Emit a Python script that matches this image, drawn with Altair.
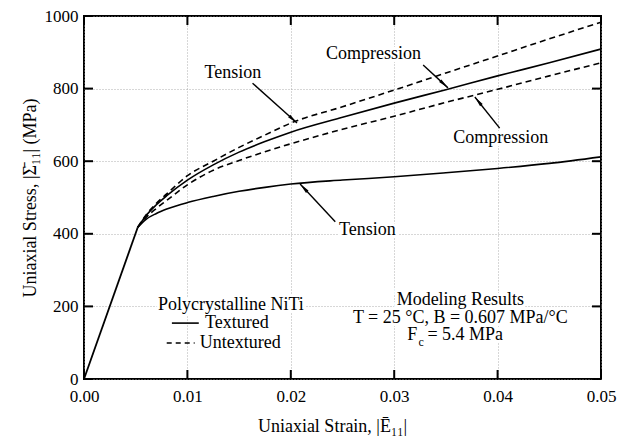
import math
import altair as alt
import pandas as pd

# ---------------- data ----------------
elastic_strain = [0, 0.0052]
elastic_stress = [0, 418]

strain = [0.0052, 0.006, 0.007, 0.008, 0.01, 0.0125, 0.015, 0.0175, 0.02,
          0.025, 0.03, 0.035, 0.04, 0.045, 0.05]
tex_tension = [418, 440, 456, 468, 486, 503, 517, 528, 537, 548, 557, 568, 580, 594, 612]
tex_compression = [418, 450, 480, 505, 548, 590, 625, 654, 680, 721, 760, 797, 835, 871, 909]
untex_tension = [418, 452, 484, 510, 560, 600, 638, 672, 705, 750, 796, 843, 890, 937, 983]
untex_compression = [418, 445, 470, 492, 535, 575, 602, 626, 648, 688, 724, 762, 798, 835, 871]

x_ticks = [0.0, 0.01, 0.02, 0.03, 0.04, 0.05]
y_ticks = [0, 200, 400, 600, 800, 1000]

# annotation labels and arrows (label position, arrow start, arrow tip)
ann_text = ["Tension", "Compression", "Compression", "Tension"]
ann_x = [0.0144, 0.0280, 0.0403, 0.0274]
ann_y = [843, 895, 664, 410]
arr_x1 = [0.0163, 0.0328, 0.0402, 0.0243]
arr_y1 = [815, 865, 691, 433]
arr_x2 = [0.0206, 0.0352, 0.0378, 0.0209]
arr_y2 = [705, 802, 777, 537]

# legend
leg_title = "Polycrystalline NiTi"
leg_title_x, leg_title_y = 0.0142, 204
leg_labels = ["Textured", "Untextured"]
leg_label_x = [0.0117, 0.0112]
leg_y = [154, 99]
leg_line_x1 = [0.0085, 0.0080]
leg_line_x2 = [0.0111, 0.0107]

# modeling results text
model_lines = ["Modeling Results", "T = 25 °C, B = 0.607 MPa/°C"]
model_x = 0.0364
model_y = [218, 168]
fc_y = 121

# ---------------- layout ----------------
W, H = 517, 363
XMAX, YMAX = 0.05, 1000
FONT = "Liberation Serif"

xs = alt.Scale(domain=[0, XMAX], nice=False, zero=False)
ys = alt.Scale(domain=[0, YMAX], nice=False, zero=False)

rows = []
for name, vals, kind in [("Textured tension", tex_tension, "solid"),
                         ("Textured compression", tex_compression, "solid"),
                         ("Untextured tension", untex_tension, "dashed"),
                         ("Untextured compression", untex_compression, "dashed")]:
    for s, v in zip(strain, vals):
        rows.append({"strain": s, "stress": v, "series": name, "kind": kind})
curves = pd.DataFrame(rows)
elastic = pd.DataFrame({"strain": elastic_strain, "stress": elastic_stress})

X = alt.X("strain:Q", scale=xs,
          axis=alt.Axis(values=x_ticks, format=".2f", title="Uniaxial Strain,  |Ē₁₁|",
                        grid=True, tickSize=0, domain=False, labelPadding=9,
                        labelFlush=False, titlePadding=13, titleX=248))
Y = alt.Y("stress:Q", scale=ys,
          axis=alt.Axis(values=y_ticks, format="d", title="Uniaxial Stress, |Σ̄₁₁| (MPa)",
                        grid=True, tickSize=0, domain=False, labelPadding=6,
                        labelFlush=False, titlePadding=5))

elastic_line = alt.Chart(elastic).mark_line(color="black", strokeWidth=1.8).encode(x=X, y=Y)

base = alt.Chart(curves)
solid = base.transform_filter(alt.datum.kind == "solid").mark_line(
    color="black", strokeWidth=1.6, interpolate="monotone").encode(
    x=alt.X("strain:Q", scale=xs), y=alt.Y("stress:Q", scale=ys), detail="series:N")
dashed = base.transform_filter(alt.datum.kind == "dashed").mark_line(
    color="black", strokeWidth=1.6, strokeDash=[6, 4], interpolate="monotone").encode(
    x=alt.X("strain:Q", scale=xs), y=alt.Y("stress:Q", scale=ys), detail="series:N")

# arrows
ang = []
for x1, y1, x2, y2 in zip(arr_x1, arr_y1, arr_x2, arr_y2):
    dx = (x2 - x1) / XMAX * W
    dy = -(y2 - y1) / YMAX * H
    ang.append(math.degrees(math.atan2(dx, -dy)) % 360)
arrows = pd.DataFrame({"x1": arr_x1, "y1": arr_y1, "x2": arr_x2, "y2": arr_y2, "angle": ang})
arrow_lines = alt.Chart(arrows).mark_rule(color="black", strokeWidth=1.4).encode(
    x=alt.X("x1:Q", scale=xs), y=alt.Y("y1:Q", scale=ys), x2="x2:Q", y2="y2:Q")
arrow_heads = alt.Chart(arrows).mark_point(
    shape="M0,0L-0.32,2L0.32,2Z", filled=True, color="black", size=110, opacity=1).encode(
    x=alt.X("x2:Q", scale=xs), y=alt.Y("y2:Q", scale=ys), angle=alt.Angle("angle:Q", scale=None))

# texts
texts = pd.DataFrame({"text": ann_text + [leg_title] + model_lines,
                      "x": ann_x + [leg_title_x] + [model_x] * 2,
                      "y": ann_y + [leg_title_y] + model_y})
legtexts = pd.DataFrame({"text": leg_labels, "x": leg_label_x, "y": leg_y})
fc = pd.DataFrame({"x": [model_x], "y": [fc_y]})

def text_layers(halo):
    kw = dict(font=FONT, fontSize=18, color="black")
    if halo:
        kw.update(stroke="white", strokeWidth=6, color="white")
    a = alt.Chart(texts).mark_text(baseline="middle", align="center", **kw).encode(
        x=alt.X("x:Q", scale=xs), y=alt.Y("y:Q", scale=ys), text="text:N")
    b = alt.Chart(legtexts).mark_text(baseline="middle", align="left", **kw).encode(
        x=alt.X("x:Q", scale=xs), y=alt.Y("y:Q", scale=ys), text="text:N")
    c1 = alt.Chart(fc).mark_text(baseline="middle", align="right", dx=-43, **kw).encode(
        x=alt.X("x:Q", scale=xs), y=alt.Y("y:Q", scale=ys), text=alt.value("F"))
    kw2 = dict(kw)
    kw2["fontSize"] = 12
    c2 = alt.Chart(fc).mark_text(baseline="top", align="left", dx=-42, dy=2, **kw2).encode(
        x=alt.X("x:Q", scale=xs), y=alt.Y("y:Q", scale=ys), text=alt.value("c"))
    c3 = alt.Chart(fc).mark_text(baseline="middle", align="left", dx=-33, **kw).encode(
        x=alt.X("x:Q", scale=xs), y=alt.Y("y:Q", scale=ys), text=alt.value("= 5.4 MPa"))
    return [a, b, c1, c2, c3]

legdf = pd.DataFrame({"x1": leg_line_x1, "x2": leg_line_x2, "y": leg_y,
                      "kind": ["solid", "dashed"]})
leg_solid = alt.Chart(legdf).transform_filter(alt.datum.kind == "solid").mark_rule(
    color="black", strokeWidth=1.6).encode(
    x=alt.X("x1:Q", scale=xs), x2="x2:Q", y=alt.Y("y:Q", scale=ys))
leg_dash = alt.Chart(legdf).transform_filter(alt.datum.kind == "dashed").mark_rule(
    color="black", strokeWidth=1.6, strokeDash=[5, 4]).encode(
    x=alt.X("x1:Q", scale=xs), x2="x2:Q", y=alt.Y("y:Q", scale=ys))

# inward ticks on all four sides
TL = 9
xt = pd.DataFrame({"v": x_ticks})
yt = pd.DataFrame({"v": y_ticks})
tick_b = alt.Chart(xt).mark_rule(color="black", strokeWidth=2).encode(
    x=alt.X("v:Q", scale=xs), y=alt.value(H), y2=alt.value(H - TL))
tick_t = alt.Chart(xt).mark_rule(color="black", strokeWidth=2).encode(
    x=alt.X("v:Q", scale=xs), y=alt.value(0), y2=alt.value(TL))
tick_l = alt.Chart(yt).mark_rule(color="black", strokeWidth=2).encode(
    y=alt.Y("v:Q", scale=ys), x=alt.value(0), x2=alt.value(TL))
tick_r = alt.Chart(yt).mark_rule(color="black", strokeWidth=2).encode(
    y=alt.Y("v:Q", scale=ys), x=alt.value(W), x2=alt.value(W - TL))

chart = alt.layer(
    elastic_line, *text_layers(True), solid, dashed, arrow_lines, arrow_heads,
    leg_solid, leg_dash, *text_layers(False), tick_b, tick_t, tick_l, tick_r
).properties(
    width=W, height=H,
    background="white",
    autosize=alt.AutoSizeParams(type="none"),
    padding={"left": 84, "top": 16, "right": 21, "bottom": 61},
).configure_view(
    stroke="black", strokeWidth=2
).configure_axis(
    labelFont=FONT, labelFontSize=17, labelColor="black",
    titleFont=FONT, titleFontSize=18, titleFontWeight="normal", titleColor="black",
    gridColor="#9a9a9a", gridDash=[1, 2], gridWidth=0.8,
)

chart.save("out.html", embed_options={"renderer": "svg", "actions": False})
